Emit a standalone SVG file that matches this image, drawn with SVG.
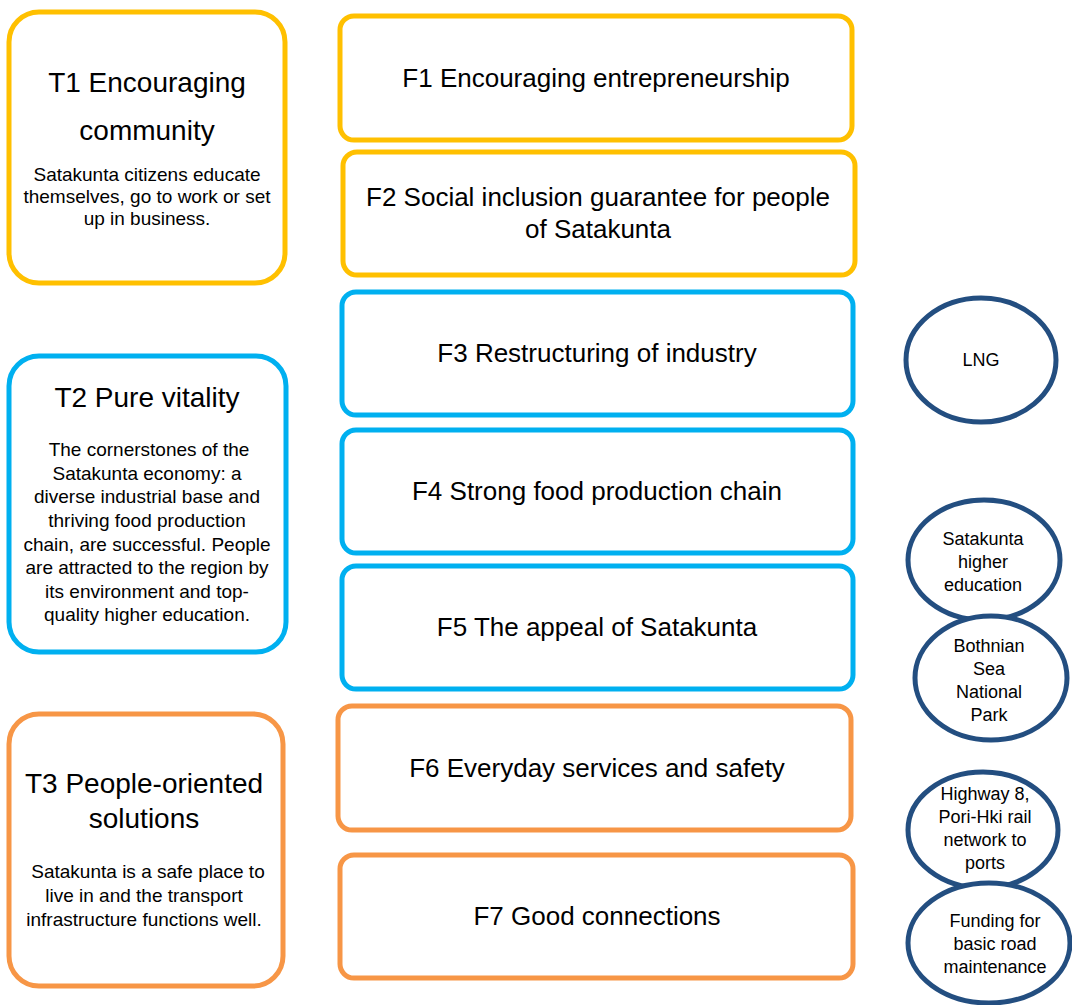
<svg xmlns="http://www.w3.org/2000/svg" width="1072" height="1005" viewBox="0 0 1072 1005">
<style>
text{font-family:"Liberation Sans","Noto Sans",sans-serif;fill:#000;text-anchor:middle}
.box{fill:#fff;stroke-width:5}
.y{stroke:#FFC000}.b{stroke:#00B0F0}.o{stroke:#F79646}
.c{fill:#fff;stroke:#234E80;stroke-width:5}
.t{font-size:28px}.s{font-size:19px}.f{font-size:26px}.e{font-size:18px}
</style>
<rect width="1072" height="1005" fill="#fff"/>
<g id="connectors"/>
<g id="T1"><rect class="box y" x="9" y="12" width="276" height="271" rx="30"/>
<text class="t" x="147" y="92">T1 Encouraging</text><text class="t" x="147" y="140">community</text>
<text class="s"><tspan x="147" y="181">Satakunta citizens educate</tspan><tspan x="147" y="203">themselves, go to work or set</tspan><tspan x="147" y="225">up in business.</tspan></text>
</g>
<g id="T2"><rect class="box b" x="9" y="356" width="277" height="296" rx="30"/>
<text class="t" x="147" y="407">T2 Pure vitality</text>
<text class="s"><tspan x="149" y="456">The cornerstones of the</tspan><tspan x="147" y="480">Satakunta economy: a</tspan><tspan x="147" y="503">diverse industrial base and</tspan><tspan x="147" y="527">thriving food production</tspan><tspan x="147" y="551">chain, are successful. People</tspan><tspan x="147" y="574">are attracted to the region by</tspan><tspan x="147" y="598">its environment and top-</tspan><tspan x="147" y="621">quality higher education.</tspan></text>
</g>
<g id="T3"><rect class="box o" x="9" y="714" width="274" height="272" rx="30"/>
<text class="t" x="144" y="793">T3 People-oriented</text><text class="t" x="144" y="828">solutions</text>
<text class="s"><tspan x="148" y="878">Satakunta is a safe place to</tspan><tspan x="144" y="902">live in and the transport</tspan><tspan x="144" y="926">infrastructure functions well.</tspan></text>
</g>
<g id="F1"><rect class="box y" x="340" y="16" width="512" height="124" rx="14"/><text class="f" x="596" y="87">F1 Encouraging entrepreneurship</text></g>
<g id="F2"><rect class="box y" x="343" y="152" width="512" height="123" rx="14"/><text class="f" x="598" y="206">F2 Social inclusion guarantee for people</text><text class="f" x="598" y="238">of Satakunta</text></g>
<g id="F3"><rect class="box b" x="342" y="292" width="511" height="123" rx="14"/><text class="f" x="597" y="362">F3 Restructuring of industry</text></g>
<g id="F4"><rect class="box b" x="342" y="430" width="511" height="123" rx="14"/><text class="f" x="597" y="500">F4 Strong food production chain</text></g>
<g id="F5"><rect class="box b" x="342" y="566" width="511" height="123" rx="14"/><text class="f" x="597" y="636">F5 The appeal of Satakunta</text></g>
<g id="F6"><rect class="box o" x="338" y="706" width="513" height="124" rx="14"/><text class="f" x="597" y="777">F6 Everyday services and safety</text></g>
<g id="F7"><rect class="box o" x="340" y="855" width="513" height="123" rx="14"/><text class="f" x="597" y="925">F7 Good connections</text></g>
<g id="LNG"><ellipse class="c" cx="981" cy="360" rx="75" ry="62"/><text class="e" x="981" y="366">LNG</text></g>
<g id="HE"><ellipse class="c" cx="984" cy="560" rx="76" ry="60"/><text class="e"><tspan x="983" y="545">Satakunta</tspan><tspan x="983" y="568">higher</tspan><tspan x="983" y="591">education</tspan></text></g>
<g id="BSNP"><ellipse class="c" cx="991" cy="678" rx="76" ry="62"/><text class="e"><tspan x="989" y="652">Bothnian</tspan><tspan x="989" y="675">Sea</tspan><tspan x="989" y="698">National</tspan><tspan x="989" y="721">Park</tspan></text></g>
<g id="HW8"><ellipse class="c" cx="983" cy="830" rx="75" ry="58"/><text class="e"><tspan x="985" y="800">Highway 8,</tspan><tspan x="985" y="823">Pori-Hki rail</tspan><tspan x="985" y="846">network to</tspan><tspan x="985" y="869">ports</tspan></text></g>
<g id="FUND"><ellipse class="c" cx="989" cy="943" rx="81" ry="60"/><text class="e"><tspan x="995" y="927">Funding for</tspan><tspan x="995" y="950">basic road</tspan><tspan x="995" y="973">maintenance</tspan></text></g>
</svg>
